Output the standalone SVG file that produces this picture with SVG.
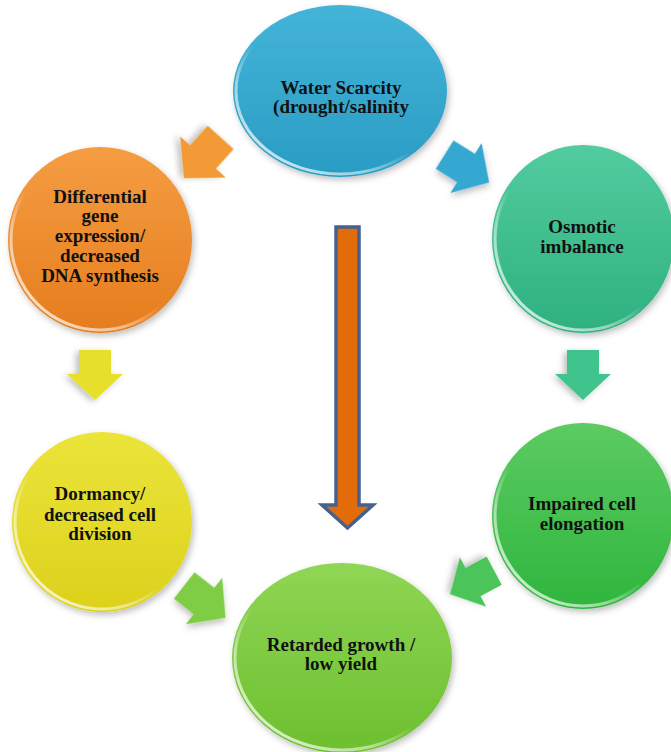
<svg xmlns="http://www.w3.org/2000/svg" width="671" height="752" viewBox="0 0 671 752">
<defs>
<style>
.lbl{font-family:"Liberation Serif","Times New Roman",serif;font-weight:bold;font-size:19px;fill:#111;text-anchor:middle}
.rim{fill:none;stroke:url(#rim);stroke-width:3}
.node{filter:url(#sh)}
</style>
<filter id="sh" x="-20%" y="-20%" width="140%" height="140%">
<feDropShadow dx="2" dy="3" stdDeviation="3" flood-color="#000" flood-opacity="0.25"/>
</filter>
<linearGradient id="rim" x1="0" y1="1" x2="0.6" y2="0.3">
<stop offset="0" stop-color="#fff" stop-opacity="0.9"/>
<stop offset="0.45" stop-color="#fff" stop-opacity="0.5"/>
<stop offset="0.7" stop-color="#fff" stop-opacity="0"/>
</linearGradient>
<linearGradient id="gBlue" x1="0" y1="0" x2="0" y2="1"><stop offset="0" stop-color="#44b4d8"/><stop offset="1" stop-color="#2a9cc4"/></linearGradient>
<linearGradient id="gOrange" x1="0" y1="0" x2="0" y2="1"><stop offset="0" stop-color="#f59d42"/><stop offset="1" stop-color="#e57d1f"/></linearGradient>
<linearGradient id="gTeal" x1="0" y1="0" x2="0" y2="1"><stop offset="0" stop-color="#52cc9e"/><stop offset="1" stop-color="#2eb07f"/></linearGradient>
<linearGradient id="gYellow" x1="0" y1="0" x2="0" y2="1"><stop offset="0" stop-color="#ebe43a"/><stop offset="1" stop-color="#dcd11c"/></linearGradient>
<linearGradient id="gGreen" x1="0" y1="0" x2="0" y2="1"><stop offset="0" stop-color="#5ccb62"/><stop offset="1" stop-color="#2fb53d"/></linearGradient>
<linearGradient id="gLime" x1="0" y1="0" x2="0" y2="1"><stop offset="0" stop-color="#8fd654"/><stop offset="1" stop-color="#6dbf2f"/></linearGradient>
<path id="arr" d="M-24,-16 H0 V-28 L26,0 L0,28 V16 H-24 Z"/>
</defs>

<g id="connectors">
<use href="#arr" transform="translate(203,157) rotate(132) scale(1.1)" fill="#f29a35" class="node"/>
<use href="#arr" transform="translate(466,168) rotate(32) scale(1.05)" fill="#36a8d2" class="node"/>
<use href="#arr" transform="translate(583,374) rotate(90)" fill="#40c48e" class="node"/>
<use href="#arr" transform="translate(95,374) rotate(90)" fill="#e6e02a" class="node"/>
<use href="#arr" transform="translate(204,601) rotate(38) scale(1.05)" fill="#7fcc45" class="node"/>
<use href="#arr" transform="translate(473,582) rotate(152)" fill="#4cc45a" class="node"/>
<path id="central-arrow" d="M336,227 H359 V505 H373 L347.5,528 L322,505 H336 Z" fill="#e36c0a" stroke="#45628e" stroke-width="3.5" stroke-linejoin="miter"/>
</g>

<g id="n-water">
<ellipse class="node" cx="340" cy="91" rx="107" ry="86" fill="url(#gBlue)"/>
<ellipse class="rim" cx="340" cy="91" rx="104" ry="83"/>
<text class="lbl" x="341" y="94">Water Scarcity</text>
<text class="lbl" x="341" y="113">(drought/salinity</text>
</g>

<g id="n-gene">
<ellipse class="node" cx="100" cy="240" rx="92" ry="93" fill="url(#gOrange)"/>
<ellipse class="rim" cx="100" cy="240" rx="89" ry="90"/>
<text class="lbl" x="100" y="203">Differential</text>
<text class="lbl" x="100" y="222">gene</text>
<text class="lbl" x="100" y="242">expression/</text>
<text class="lbl" x="100" y="262">decreased</text>
<text class="lbl" x="100" y="282">DNA synthesis</text>
</g>

<g id="n-osmotic">
<ellipse class="node" cx="583" cy="239" rx="91" ry="94" fill="url(#gTeal)"/>
<ellipse class="rim" cx="583" cy="239" rx="88" ry="91"/>
<text class="lbl" x="582" y="233">Osmotic</text>
<text class="lbl" x="582" y="253">imbalance</text>
</g>

<g id="n-dormancy">
<ellipse class="node" cx="102" cy="522" rx="90" ry="90" fill="url(#gYellow)"/>
<ellipse class="rim" cx="102" cy="522" rx="87" ry="87"/>
<text class="lbl" x="100" y="500">Dormancy/</text>
<text class="lbl" x="100" y="521">decreased cell</text>
<text class="lbl" x="100" y="540">division</text>
</g>

<g id="n-elongation">
<ellipse class="node" cx="583" cy="516" rx="91" ry="93" fill="url(#gGreen)"/>
<ellipse class="rim" cx="583" cy="516" rx="88" ry="90"/>
<text class="lbl" x="582" y="510">Impaired cell</text>
<text class="lbl" x="582" y="530">elongation</text>
</g>

<g id="n-growth">
<ellipse class="node" cx="342" cy="658" rx="110" ry="95" fill="url(#gLime)"/>
<ellipse class="rim" cx="342" cy="658" rx="107" ry="92"/>
<text class="lbl" x="341" y="651">Retarded growth /</text>
<text class="lbl" x="341" y="670">low yield</text>
</g>
</svg>
